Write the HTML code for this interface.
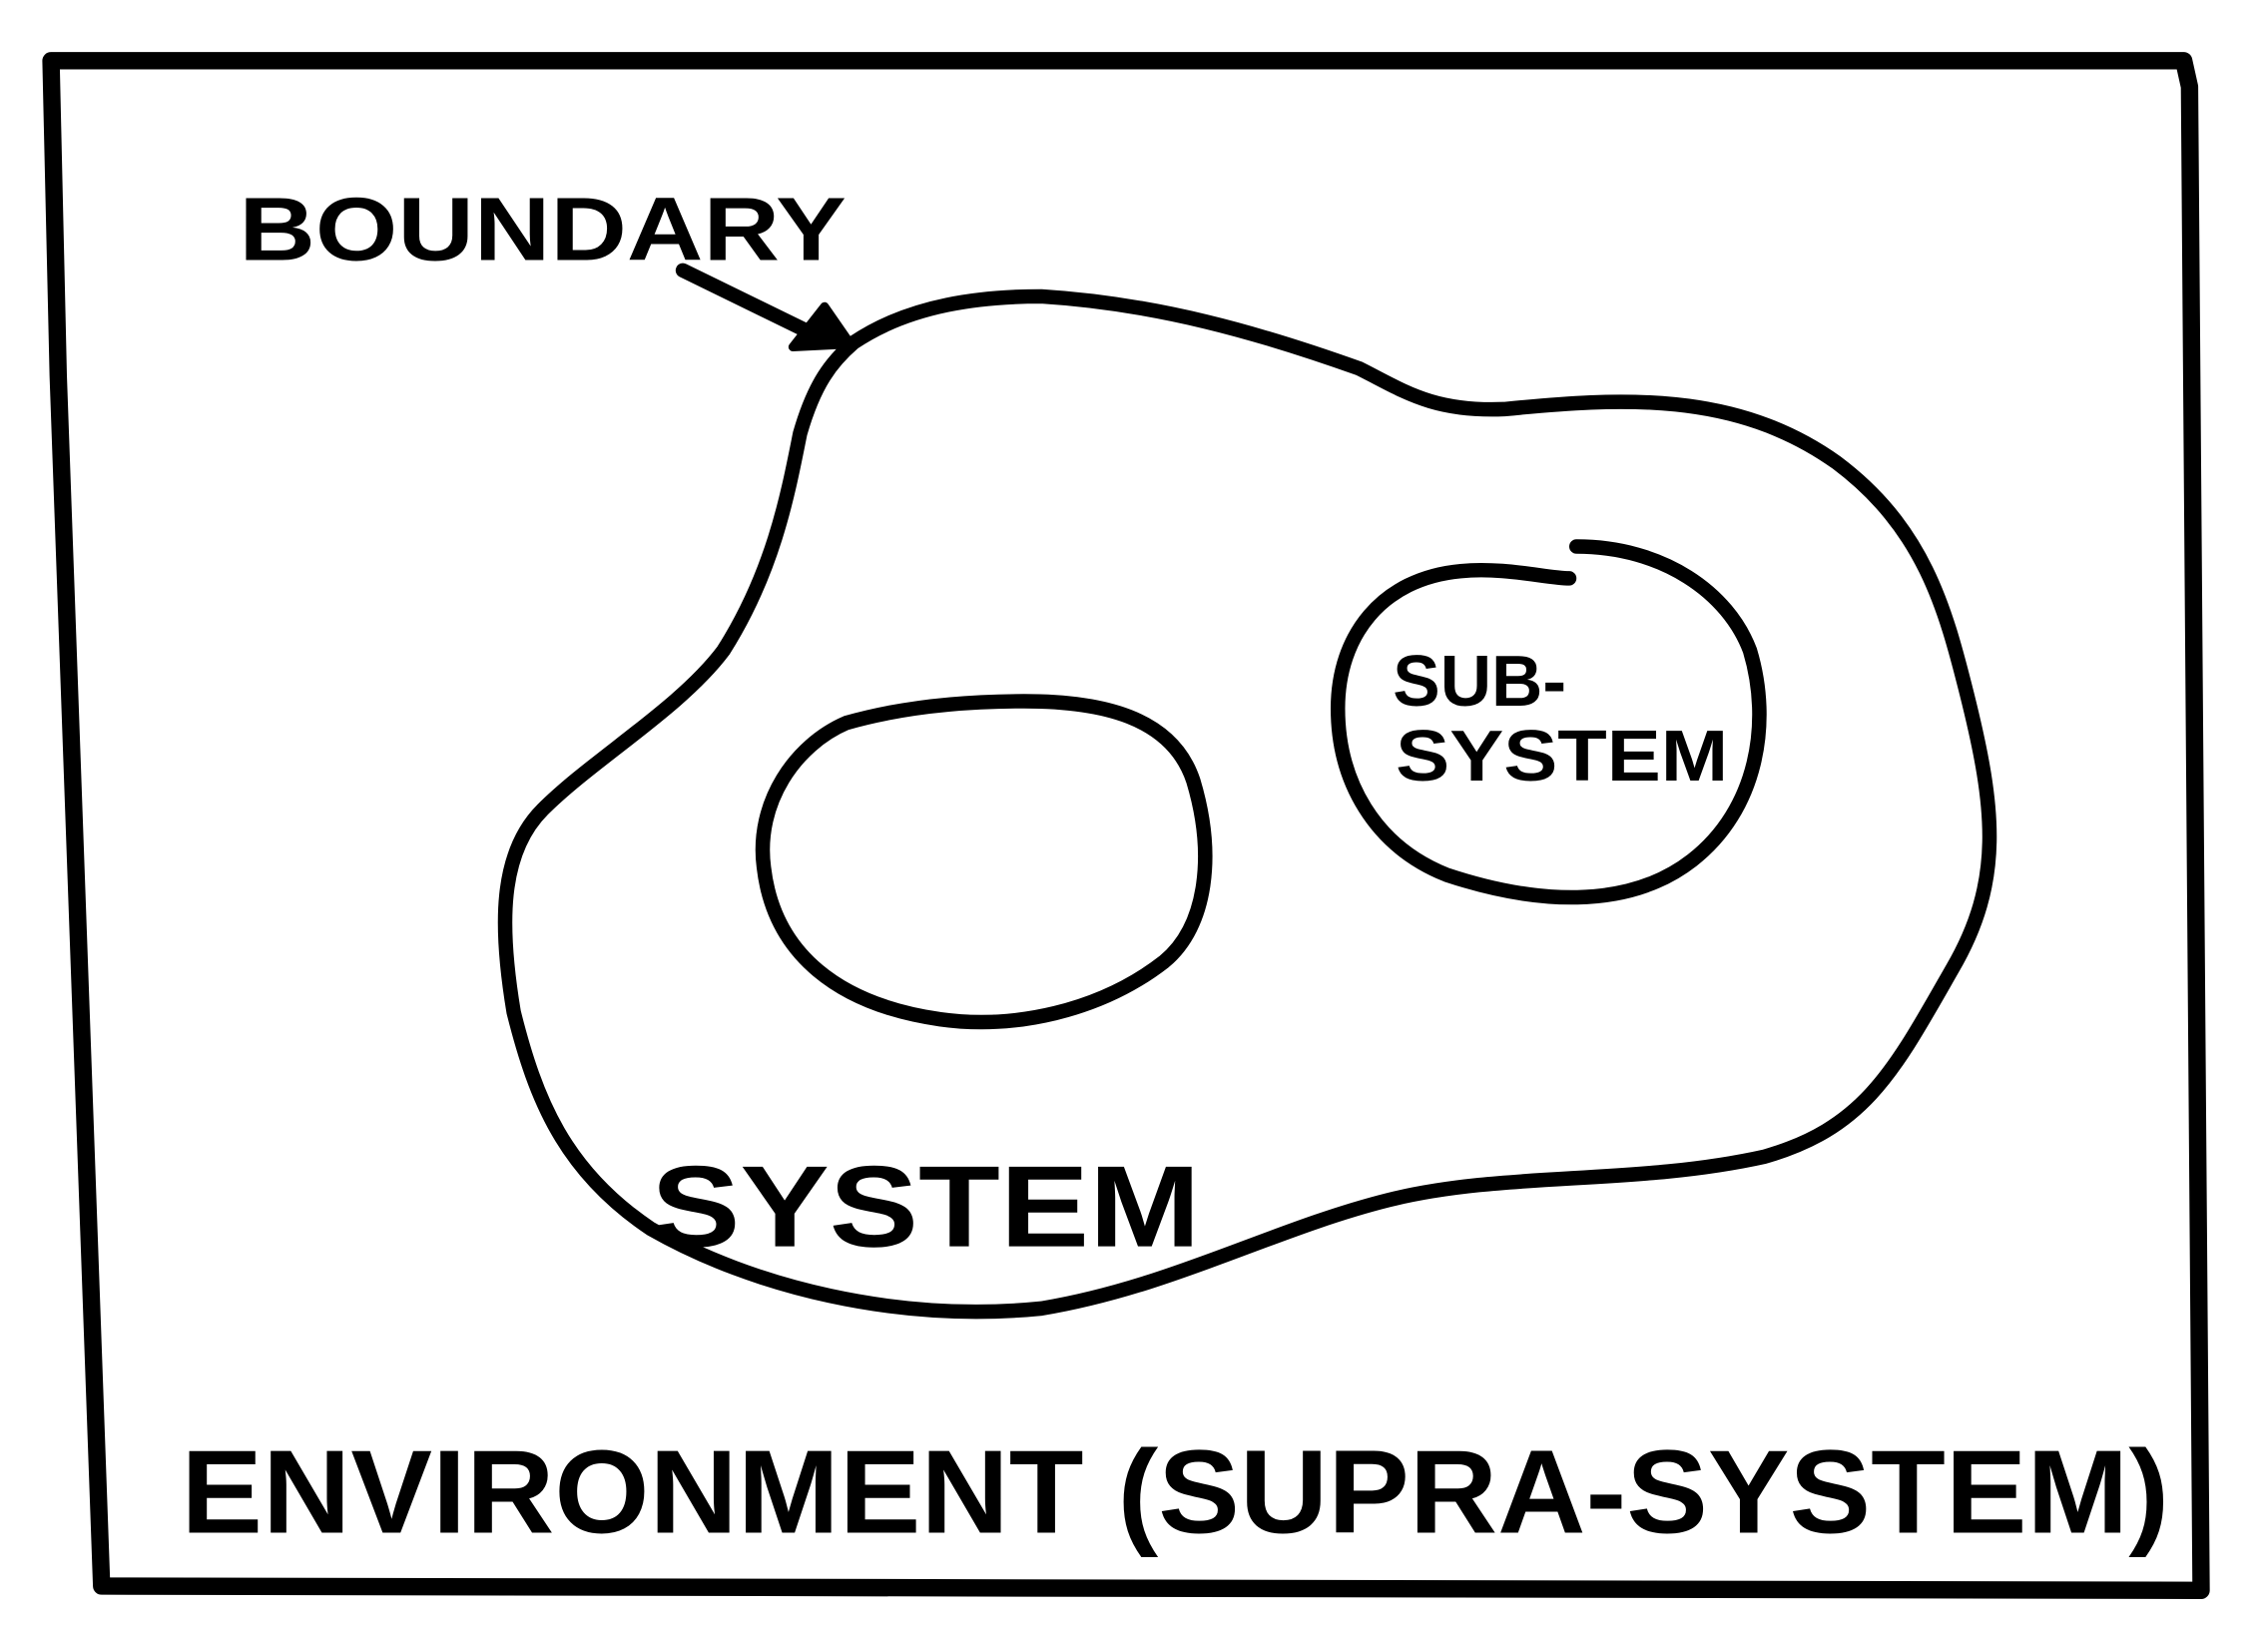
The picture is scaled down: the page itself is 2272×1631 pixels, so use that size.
<!DOCTYPE html>
<html><head><meta charset="utf-8"><style>
html,body{margin:0;padding:0;background:#fff;}
svg{display:block;}
text{font-family:"Liberation Sans",sans-serif;font-weight:bold;fill:#000;}
</style></head><body>
<svg width="2272" height="1631" viewBox="0 0 1568 1126" xmlns="http://www.w3.org/2000/svg">
<rect width="1568" height="1126" fill="#fff"/>
<g fill="none" stroke="#000" stroke-linecap="round" stroke-linejoin="round">
<path d="M35,42 L1510,42 L1514,60 L1522,1100 L70,1097 L40,260 L35,42" stroke-width="12"/>
<path d="M590,237 C630,210 680,205 720,205 C800,210 870,230 940,255 C970,270 990,285 1040,283 C1120,275 1200,270 1270,320 C1330,365 1345,420 1360,480 C1380,560 1385,610 1350,670 C1310,740 1290,780 1220,800 C1130,820 1040,810 960,830 C880,850 810,890 720,905 C620,915 520,890 450,850 C390,810 370,760 355,700 C345,640 345,590 375,560 C410,525 470,490 500,450 C535,395 545,340 553,300 C563,265 575,250 590,237 Z" stroke-width="10"/>
<path d="M708,485 C760,485 810,495 825,540 C840,590 835,640 805,665 C760,700 700,712 650,705 C580,695 535,660 528,600 C522,555 550,515 585,500 C620,490 660,485 708,485" stroke-width="10"/>
<path d="M1090,378 C1150,378 1195,410 1210,450 C1225,500 1215,560 1170,595 C1125,630 1060,625 1000,605 C950,585 925,540 925,490 C925,440 955,400 1010,395 C1040,392 1070,400 1085,400" stroke-width="10"/>
<path d="M472,187 L560,230" stroke-width="10"/>
<path d="M548,240 L588,238 L570,212 Z" fill="#000" stroke-width="6"/>
</g>
<text x="165" y="180" font-size="62" textLength="420" lengthAdjust="spacingAndGlyphs">BOUNDARY</text>
<text x="450" y="862" font-size="80" textLength="380" lengthAdjust="spacingAndGlyphs">SYSTEM</text>
<text x="963" y="488" font-size="50" textLength="120" lengthAdjust="spacingAndGlyphs">SUB-</text>
<text x="965" y="540" font-size="50" textLength="230" lengthAdjust="spacingAndGlyphs">SYSTEM</text>
<text x="125" y="1060" font-size="82" textLength="1375" lengthAdjust="spacingAndGlyphs">ENVIRONMENT (SUPRA-SYSTEM)</text>
</svg>
</body></html>
